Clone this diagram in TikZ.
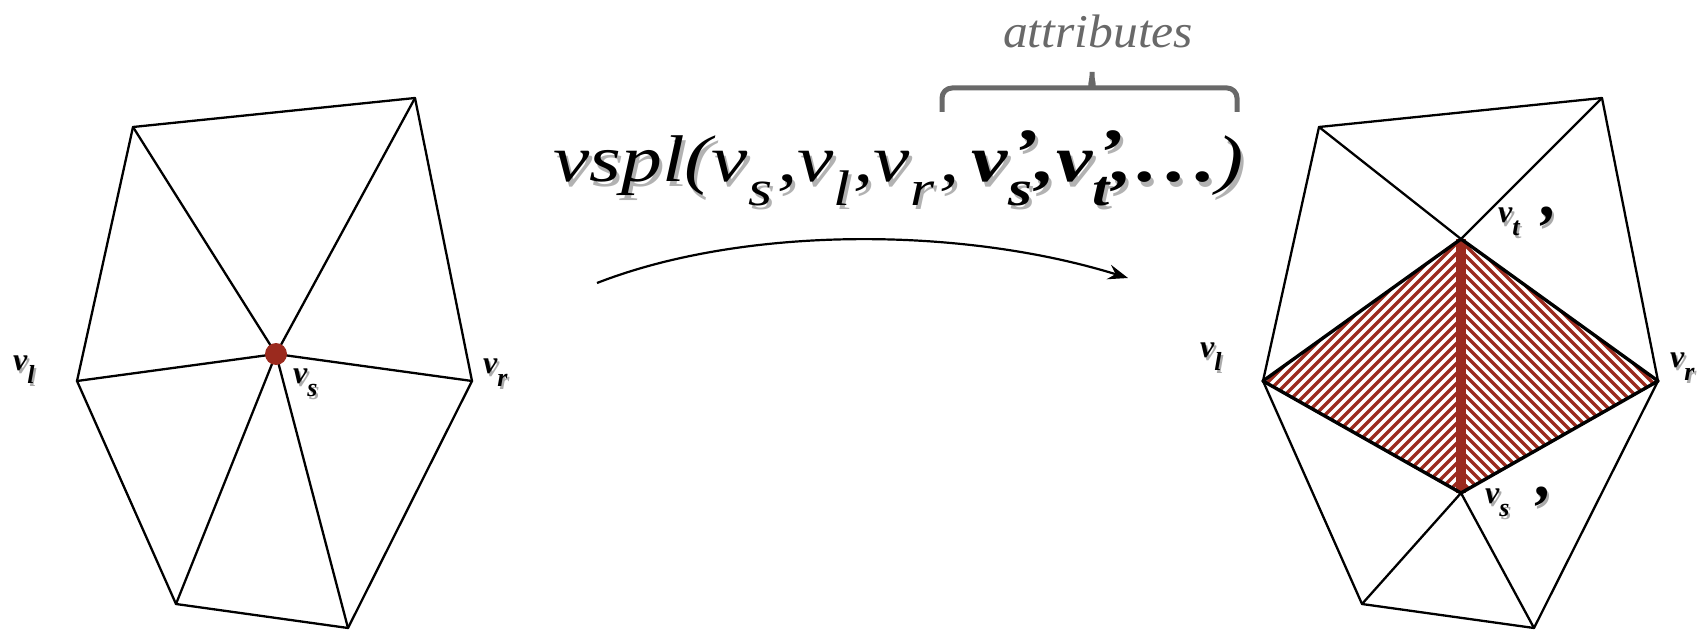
\documentclass[tikz,border=0pt]{standalone}
\usepackage{fontspec}
\setmainfont{Liberation Serif}
\usepackage{graphicx}
\usetikzlibrary{arrows.meta}
\definecolor{vred}{RGB}{155,42,30}
\definecolor{bgray}{RGB}{105,105,105}
\newcommand\fsub[1]{\raisebox{-0.36em}{\fontsize{50}{50}\selectfont #1}}
\newcommand\fsubp[1]{\rlap{\kern3pt\raisebox{0.12em}{’}}\raisebox{-0.36em}{\fontsize{50}{50}\selectfont #1}}
\newcommand\formula{\fontsize{66}{70}\selectfont\itshape vspl(v\fsub{s}\kern4pt,v\fsub{l}\kern2pt,v\fsub{r}\kern4pt,\kern10pt{\bfseries v\fsubp{s}\kern3pt,v\fsubp{t}\kern2pt,\kern4pt.\kern7pt.\kern7pt.\kern4pt}\kern-4pt)}
\newcommand\lsub[1]{\raisebox{-13pt}{\fontsize{26}{26}\selectfont #1}}
\newcommand\lprime{\raisebox{-26pt}{\fontsize{64}{64}\selectfont ’}}
\begin{document}
\begin{tikzpicture}[x=1pt,y=-1pt,
  mesh/.style={line width=2.3pt, line join=round, line cap=round},
  rim/.style={line width=3.4pt, line join=round, line cap=round},
  lbl/.style={inner sep=0pt, anchor=base west, font=\fontsize{32}{32}\selectfont\bfseries\itshape},
  shd/.style={text=black, opacity=0.33},
  hatchline/.style={vred, line width=3.3pt}]
\useasboundingbox (0,0) rectangle (1708,631);
% ---------- left mesh ----------
\coordinate (Ltl) at (133,127);
\coordinate (Ltr) at (415,98);
\coordinate (Lvl) at (77,381);
\coordinate (Lvs) at (276,354);
\coordinate (Lvr) at (472,381);
\coordinate (Lbl) at (176,604);
\coordinate (Lbr) at (348,628);
\draw[mesh] (Ltl) -- (Ltr) -- (Lvr) -- (Lbr) -- (Lbl) -- (Lvl) -- cycle;
\foreach \p in {Ltl,Ltr,Lvr,Lbr,Lbl,Lvl} \draw[mesh] (Lvs) -- (\p);
\fill[vred] (Lvs) circle[radius=11];
% labels left
\node[lbl,shd,shift={(2,3)}] at (13,370) {v\lsub{l}};
\node[lbl] (lab-Lvl) at (13,370) {v\lsub{l}};
\node[lbl,shd,shift={(2,3)}] at (293,383) {v\lsub{s}};
\node[lbl] (lab-Lvs) at (293,383) {v\lsub{s}};
\node[lbl,shd,shift={(2,3)}] at (483,373) {v\lsub{r}};
\node[lbl] (lab-Lvr) at (483,373) {v\lsub{r}};
% ---------- right mesh ----------
\coordinate (Rtl) at (1319,127);
\coordinate (Rtr) at (1602,98);
\coordinate (Rvl) at (1263,381);
\coordinate (Rvt) at (1461,239);
\coordinate (Rvs) at (1461,493);
\coordinate (Rvr) at (1658,381);
\coordinate (Rbl) at (1362,604);
\coordinate (Rbr) at (1534,628);
% hatching
\begin{scope}
\clip (Rvl) -- (Rvt) -- (Rvs) -- cycle;
\foreach \c in {1490,1500,...,1960} \draw[hatchline] ({\c-220},220) -- ({\c-520},520);
\end{scope}
\begin{scope}
\clip (Rvr) -- (Rvt) -- (Rvs) -- cycle;
\foreach \c in {960,970,...,1430} \draw[hatchline] ({\c+220},220) -- ({\c+520},520);
\end{scope}
\draw[mesh] (Rtl) -- (Rtr) -- (Rvr) -- (Rbr) -- (Rbl) -- (Rvl) -- cycle;
\draw[mesh] (Rtl) -- (Rvt) -- (Rtr);
\draw[mesh] (Rbl) -- (Rvs) -- (Rbr);
\draw[vred, line width=10pt] (Rvt) -- (Rvs);
\draw[rim] (Rvl) -- (Rvt) -- (Rvr) -- (Rvs) -- cycle;
% labels right
\node[lbl,shd,shift={(2,3)}] at (1200,357) {v\lsub{l}};
\node[lbl] (lab-Rvl) at (1200,357) {v\lsub{l}};
\node[lbl,shd,shift={(2,3)}] at (1670,367) {v\lsub{r}};
\node[lbl] (lab-Rvr) at (1670,367) {v\lsub{r}};
\node[lbl,shd,shift={(2,3)}] at (1498,223) {v\lsub{t}\hspace{14pt}\lprime};
\node[lbl] (lab-Rvt) at (1498,223) {v\lsub{t}\hspace{14pt}\lprime};
\node[lbl,shd,shift={(2,3)}] at (1485,503) {v\lsub{s}\hspace{19pt}\lprime};
\node[lbl] (lab-Rvs) at (1485,503) {v\lsub{s}\hspace{19pt}\lprime};
% ---------- formula ----------
\node[inner sep=0pt, anchor=base west, text=black, opacity=0.3, shift={(3,4)}] at (553,182) {\resizebox{690pt}{\height}{\formula}};
\node[inner sep=0pt, anchor=base west] (formula) at (553,182) {\resizebox{690pt}{\height}{\formula}};
% brace
\draw[bgray, line width=5pt, rounded corners=10pt] (942,112) -- (942,88) -- (1082,88)
  .. controls (1089,88) and (1092,80) .. (1092,66)
  .. controls (1092,80) and (1095,88) .. (1102,88) -- (1237,88) -- (1237,112);
\node[inner sep=0pt, anchor=base west, text=bgray] (attr) at (1003,48) {\resizebox{190pt}{\height}{\fontsize{47}{47}\selectfont\itshape attributes}};
% ---------- arrow ----------
\coordinate (Astart) at (597,283);
\coordinate (Aend) at (1128,278);
\draw[line width=2.2pt, -{Stealth[length=20pt,width=15pt,inset=7pt]}] (Astart) .. controls (743,226) and (960,226) .. (Aend);
\end{tikzpicture}
\end{document}
